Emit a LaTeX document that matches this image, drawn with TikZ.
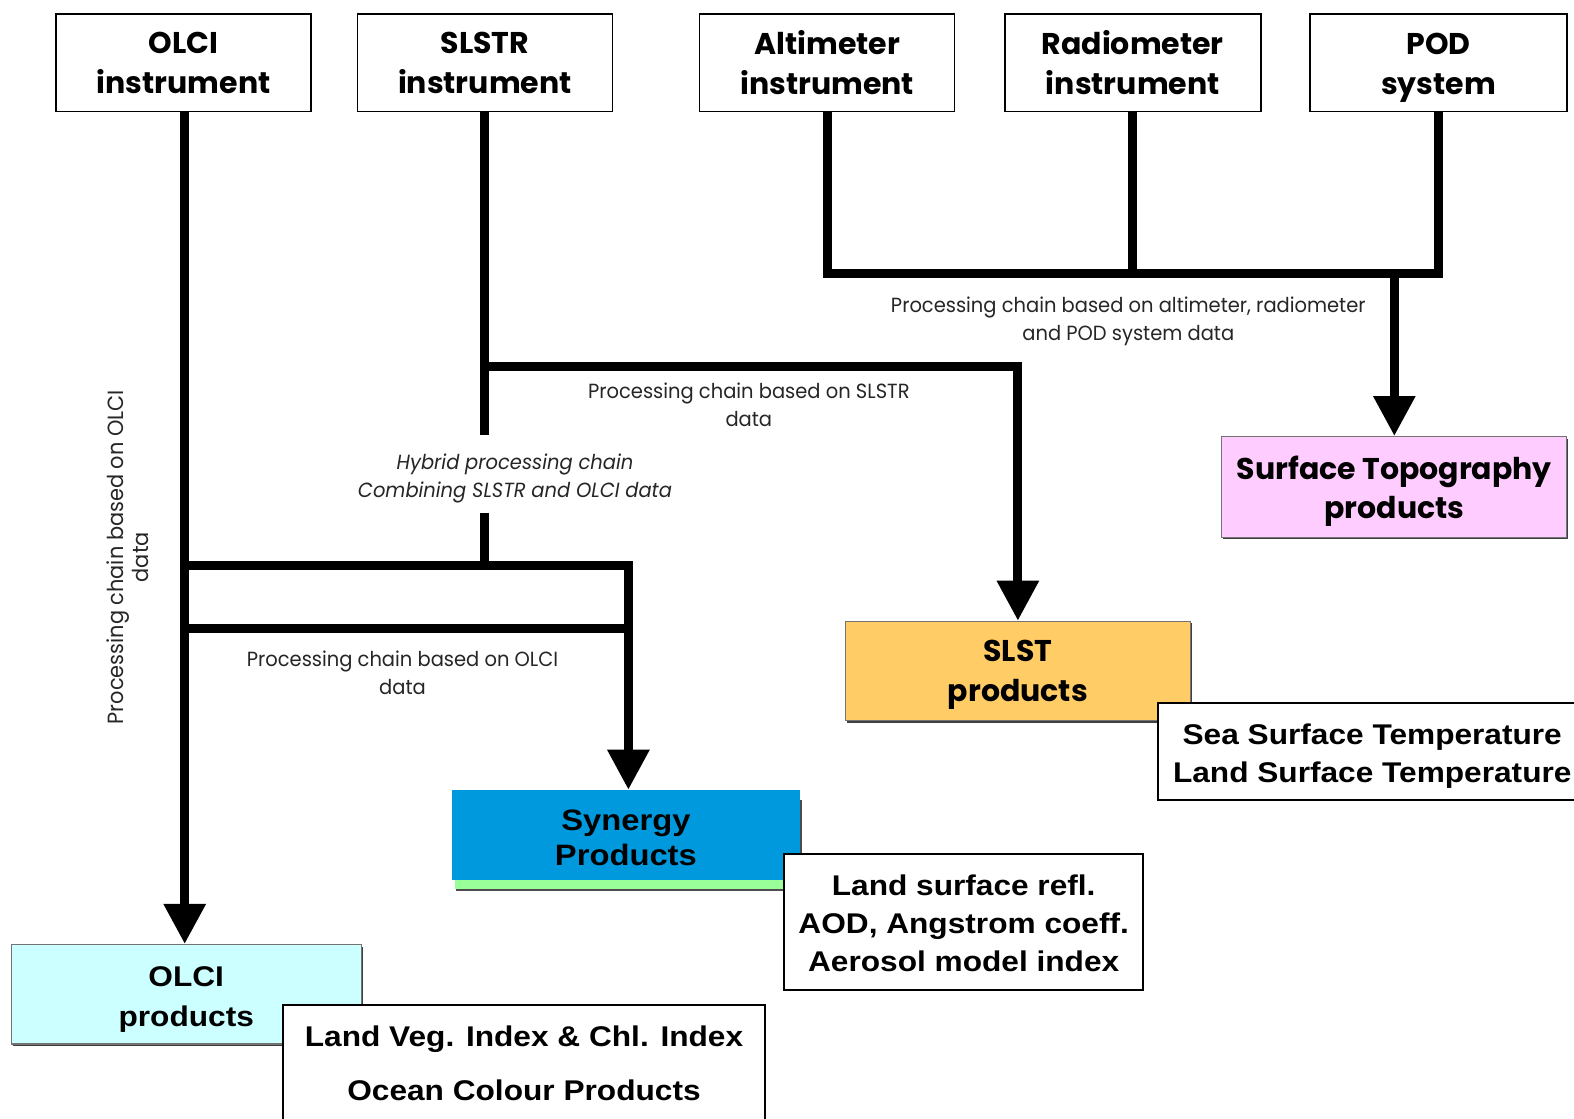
\documentclass[tikz,border=0pt]{standalone}
\usepackage{fontspec}
\setmainfont{Liberation Sans}
\newfontfamily\geo{Poppins}
\newfontfamily\geol[FakeStretch=0.95]{Poppins}
\newfontfamily\arialx[FakeStretch=1.11]{Liberation Sans}
\usetikzlibrary{arrows.meta,shadows}

\definecolor{topo}{RGB}{255,204,255}
\definecolor{slstc}{RGB}{255,204,102}
\definecolor{synblue}{RGB}{0,153,221}
\definecolor{syngreen}{RGB}{153,255,153}
\definecolor{olcic}{RGB}{204,255,255}

\tikzset{
  inst/.style={draw=black, line width=1.5pt, fill=white, minimum width=255pt, minimum height=97.5pt,
    align=center, inner sep=0pt, font=\geo\bfseries\fontsize{30}{40}\selectfont},
  prod/.style={draw=black!55, line width=1.2pt, inner sep=0pt,
    drop shadow={shadow xshift=1.5pt, shadow yshift=-2pt, fill=black!75, opacity=1}},
  prodtext/.style={align=center, inner sep=0pt, font=\geo\bfseries\fontsize{30}{40}\selectfont},
  callout/.style={draw=black, line width=1.8pt, fill=white, inner sep=0pt},
  callouttext/.style={align=center, inner sep=0pt, font=\arialx\bfseries\fontsize{28.5}{38}\selectfont},
  chain/.style={line width=9pt, draw=black},
  chainarrow/.style={chain, -{Triangle[width=40pt,length=40pt]}},
  lbl/.style={align=center, inner sep=0pt, text=black!85, font=\geol\fontsize{20.5}{28}\selectfont},
}

\begin{document}
\begin{tikzpicture}[x=1.00383pt,y=-1.00383pt]
\useasboundingbox[fill=white] (0,0) rectangle (1568,1114);

% instruments
\node[inst] (olci) at (183,62.5) {OLCI\\instrument};
\node[inst] (slstr) at (483,62.5) {SLSTR\\instrument};
\node[inst] (alt) at (824,62.5) {Altimeter\\instrument};
\node[inst, minimum width=256pt] (rad) at (1128.5,62.5) {Radiometer\\instrument};
\node[inst, minimum width=257pt] (pod) at (1433,62.5) {};
\node[prodtext] (tpod) at (1433,67.5) {POD\\system};

% surface topography
\node[prod, fill=topo, minimum width=345pt, minimum height=100.5pt] (topo) at (1389,485) {};
\node[prodtext, font=\geo\bfseries\fontsize{30}{39}\selectfont] (ttopo) at (1389,489)
  {Surface Topography\\products};

% SLST
\node[prod, fill=slstc, minimum width=345pt, minimum height=99.5pt] (slst) at (1014,668.5) {};
\node[prodtext] (tslst) at (1014,672.5) {SLST\\products};
\node[callout, minimum width=428pt, minimum height=97.5pt] (sst) at (1367,748.5) {};
\node[callouttext] (tsst) at (1367,753) {Sea Surface Temperature\\Land Surface Temperature};

% synergy
\fill[syngreen, drop shadow={shadow xshift=1.5pt, shadow yshift=-2pt, fill=black!70, opacity=1}]
  (453,795) rectangle (797,886);
\node[fill=synblue, minimum width=348pt, minimum height=90.5pt, inner sep=0pt] (syn) at (623.5,832) {};
\node[callouttext, font=\arialx\bfseries\fontsize{29.5}{35}\selectfont] (tsyn) at (623.5,835)
  {Synergy\\Products};
\node[callout, minimum width=359pt, minimum height=135.5pt] (lsr) at (960,918.5) {};
\node[callouttext] (tlsr) at (960,919.5) {Land surface refl.\\AOD, Angstrom coeff.\\Aerosol model index};

% OLCI products
\node[prod, fill=olcic, minimum width=350pt, minimum height=99.5pt] (olcip) at (185.5,990.5) {};
\node[callouttext, font=\arialx\bfseries\fontsize{28.5}{40}\selectfont] (tolcip) at (185.5,996)
  {OLCI\\products};
\node[callout, minimum width=482pt, minimum height=124.5pt] (lvi) at (522,1063) {};
\node[callouttext, font=\arialx\bfseries\fontsize{28.5}{54}\selectfont] (tlvi) at (522,1059)
  {Land Veg. Index \& Chl. Index\\Ocean Colour Products};

% junction coordinates
\coordinate (oS) at (184,111);
\coordinate (jA) at (824,272);
\coordinate (jP) at (1433,272);
\coordinate (jT) at (1389,272);
\coordinate (jS) at (483,365);
\coordinate (hybA) at (483,433);
\coordinate (hybB) at (483,511);
\coordinate (jH) at (483,563);
\coordinate (jO1) at (184,563);
\coordinate (jO2) at (184,626);
\coordinate (cR) at (626,563);
\coordinate (cR2) at (626,626);

% connectors
\draw[chain] (alt.south) -- (jA) -- (jP) -- (pod.south);
\draw[chain] (rad.south) -- (rad.south |- jA);
\draw[chainarrow] (jT) -- (topo.north);

\draw[chain] (slstr.south) -- (hybA);
\draw[chain] (hybB) -- (jH);
\draw[chainarrow] (jS) -| (slst.north);

\draw[chainarrow] (oS) -- (oS |- olcip.north);
\draw[chainarrow] (jO1) -- (cR) -- (cR |- syn.north);
\draw[chain] (jO2) -- (cR2);

% labels
\node[lbl] (lalt) at (1124,320) {Processing chain based on altimeter, radiometer\\and POD system data};
\node[lbl] (lslstr) at (746,403) {Processing chain based on SLSTR\\data};
\node[lbl, font=\geol\itshape\fontsize{20.5}{28}\selectfont] (lhyb) at (513,477)
  {Hybrid processing chain\\Combining SLSTR and OLCI data};
\node[lbl] (lolci) at (401,670) {Processing chain based on OLCI\\data};
\node[lbl, rotate=90, font=\geol\fontsize{22}{25}\selectfont] (lolciv) at (127,555)
  {Processing chain based on OLCI\\data};
\end{tikzpicture}
\end{document}
